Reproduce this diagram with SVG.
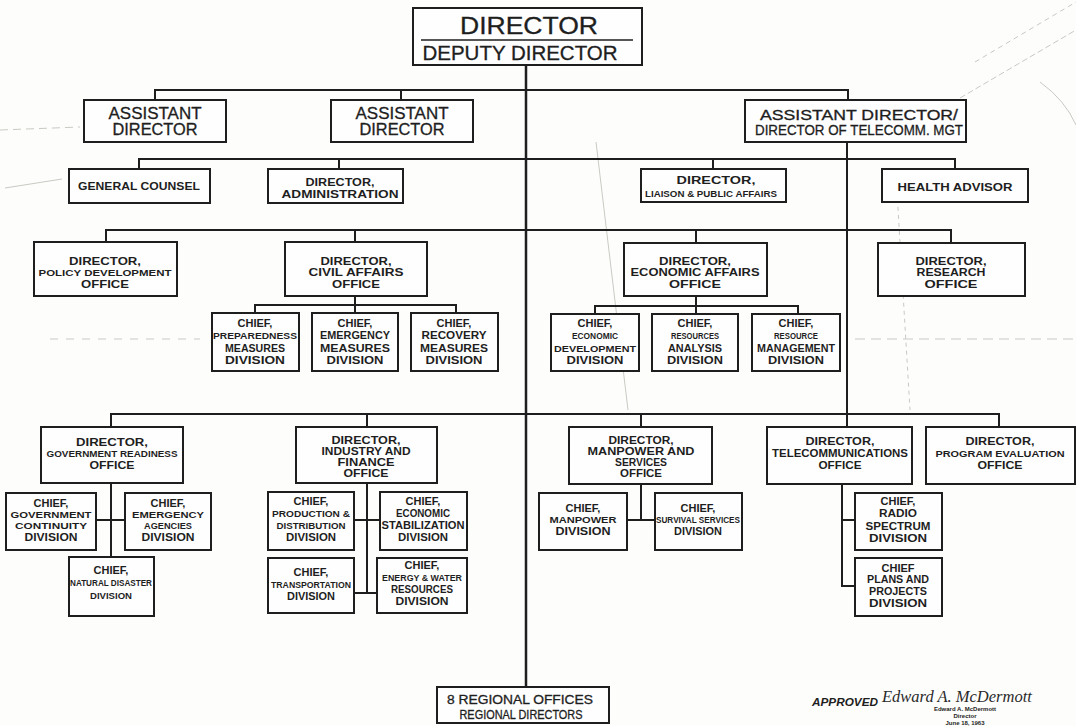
<svg xmlns="http://www.w3.org/2000/svg" width="1076" height="726" viewBox="0 0 1076 726">
<style>
.bg{fill:#fdfdfb}
.n rect{fill:#fefefe;stroke:#1e1e1e;stroke-width:2}
.c path{fill:none;stroke:#1e1e1e;stroke-width:2}
.t{font-family:"Liberation Sans",Arial,sans-serif;font-weight:bold;fill:#1e1e1e;text-anchor:middle}
.r{font-weight:normal;stroke:#1e1e1e;stroke-width:0.3}
.f23{font-size:23px}.f20{font-size:20px}.f16{font-size:16px}.f14{font-size:14px}.f12{font-size:12px}
.f11{font-size:11px}.f10{font-size:10px}.f9{font-size:9.5px}.f8{font-size:9px}.f6{font-size:6px}
.m{fill:none;stroke:#c9c9c4;stroke-width:1}
.sig{font-family:"Liberation Serif",serif;font-style:italic;font-size:16.5px;fill:#2a2a2a}
</style>
<rect class="bg" x="0" y="0" width="1076" height="726"/>
<g id="scan-marks">
<path class="m" stroke-dasharray="6 3" d="M960 98 L1076 30"/>
<path class="m" stroke-dasharray="5 4" d="M975 62 L1076 2"/>
<path class="m" d="M1040 82 Q1065 100 1076 125"/>
<path class="m" d="M596 142 L628 410"/>
<path class="m" stroke-dasharray="4 4" d="M896 175 L910 410"/>
<path class="m" stroke-dasharray="8 5" d="M0 130 L80 127"/>
<path class="m" d="M5 188 L62 179"/>
<path class="m" stroke-dasharray="8 8" d="M50 339 L200 339"/>
<path class="m" stroke-dasharray="10 6" d="M855 339 L1076 339"/>
</g>
<g id="connectors" class="c">
<path d="M526 65 V687" style="stroke-width:2.5"/>
<path d="M155 100 V90 H848 V100 M401 90 V100"/>
<path d="M847 142 V427"/>
<path d="M139 169 V159 H955 V169 M339 159 V169 M713 159 V169"/>
<path d="M106 242 V230 H951 V243 M355 230 V242 M696 230 V243"/>
<path d="M355 296 V305 M255 313 V305 H456 V313 M355 305 V313"/>
<path d="M696 296 V306 M595 314 V306 H798 V314 M696 306 V314"/>
<path d="M111 427 V414 H999 V427 M367 414 V427 M641 414 V427"/>
<path d="M111 483 V557 M96 520 H125"/>
<path d="M367 483 V593 M354 520 H380 M354 593 H377"/>
<path d="M641 484 V520 M627 520 H655"/>
<path d="M842 484 V586 H855 M842 520 H855"/>
</g>
<g id="director" class="n">
<rect x="413" y="8" width="229" height="57"/>
<path d="M421 40 H633" style="fill:none;stroke:#1e1e1e;stroke-width:1.6"/>
<text class="t r f23" x="529" y="34" textLength="138" lengthAdjust="spacingAndGlyphs">DIRECTOR</text>
<text class="t r f20" x="520" y="60" textLength="195" lengthAdjust="spacingAndGlyphs">DEPUTY DIRECTOR</text>
</g>
<g id="asst-director-1" class="n">
<rect x="84" y="100" width="142" height="42"/>
<text class="t r f16" x="155" y="119" textLength="93" lengthAdjust="spacingAndGlyphs">ASSISTANT</text>
<text class="t r f16" x="155" y="135" textLength="85" lengthAdjust="spacingAndGlyphs">DIRECTOR</text>
</g>
<g id="asst-director-2" class="n">
<rect x="331" y="100" width="142" height="42"/>
<text class="t r f16" x="402" y="119" textLength="93" lengthAdjust="spacingAndGlyphs">ASSISTANT</text>
<text class="t r f16" x="402" y="135" textLength="85" lengthAdjust="spacingAndGlyphs">DIRECTOR</text>
</g>
<g id="asst-director-telecomm" class="n">
<rect x="745" y="100" width="221" height="42"/>
<text class="t r f14" x="859" y="120" textLength="198" lengthAdjust="spacingAndGlyphs">ASSISTANT  DIRECTOR/</text>
<text class="t r f14" x="859" y="135" textLength="208" lengthAdjust="spacingAndGlyphs">DIRECTOR OF TELECOMM. MGT</text>
</g>
<g id="general-counsel" class="n">
<rect x="69" y="169" width="141" height="34"/>
<text class="t f10" x="139" y="190" textLength="122" lengthAdjust="spacingAndGlyphs">GENERAL COUNSEL</text>
</g>
<g id="director-administration" class="n">
<rect x="268" y="169" width="135" height="34"/>
<text class="t f10" x="340" y="186" textLength="69" lengthAdjust="spacingAndGlyphs">DIRECTOR,</text>
<text class="t f10" x="340" y="198" textLength="117" lengthAdjust="spacingAndGlyphs">ADMINISTRATION</text>
</g>
<g id="director-liaison" class="n">
<rect x="641" y="169" width="145" height="33"/>
<text class="t f10" x="716" y="184" textLength="79" lengthAdjust="spacingAndGlyphs">DIRECTOR,</text>
<text class="t f8" x="711" y="197" textLength="132" lengthAdjust="spacingAndGlyphs">LIAISON &amp; PUBLIC AFFAIRS</text>
</g>
<g id="health-advisor" class="n">
<rect x="882" y="169" width="146" height="33"/>
<text class="t f10" x="955" y="191" textLength="115" lengthAdjust="spacingAndGlyphs">HEALTH ADVISOR</text>
</g>
<g id="policy-development" class="n">
<rect x="34" y="242" width="143" height="54"/>
<text class="t f11" x="105" y="265" textLength="72" lengthAdjust="spacingAndGlyphs">DIRECTOR,</text>
<text class="t f9" x="105" y="276" textLength="133" lengthAdjust="spacingAndGlyphs">POLICY DEVELOPMENT</text>
<text class="t f11" x="105" y="288" textLength="48" lengthAdjust="spacingAndGlyphs">OFFICE</text>
</g>
<g id="civil-affairs" class="n">
<rect x="285" y="242" width="142" height="54"/>
<text class="t f11" x="356" y="265" textLength="71" lengthAdjust="spacingAndGlyphs">DIRECTOR,</text>
<text class="t f11" x="356" y="276" textLength="95" lengthAdjust="spacingAndGlyphs">CIVIL AFFAIRS</text>
<text class="t f11" x="356" y="288" textLength="48" lengthAdjust="spacingAndGlyphs">OFFICE</text>
</g>
<g id="economic-affairs" class="n">
<rect x="624" y="243" width="143" height="53"/>
<text class="t f11" x="695" y="265" textLength="72" lengthAdjust="spacingAndGlyphs">DIRECTOR,</text>
<text class="t f11" x="695" y="276" textLength="129" lengthAdjust="spacingAndGlyphs">ECONOMIC AFFAIRS</text>
<text class="t f11" x="695" y="288" textLength="52" lengthAdjust="spacingAndGlyphs">OFFICE</text>
</g>
<g id="research" class="n">
<rect x="878" y="243" width="147" height="53"/>
<text class="t f11" x="951" y="265" textLength="71" lengthAdjust="spacingAndGlyphs">DIRECTOR,</text>
<text class="t f11" x="951" y="276" textLength="69" lengthAdjust="spacingAndGlyphs">RESEARCH</text>
<text class="t f11" x="951" y="288" textLength="53" lengthAdjust="spacingAndGlyphs">OFFICE</text>
</g>
<g id="preparedness-measures" class="n">
<rect x="212" y="313" width="87" height="58"/>
<text class="t f11" x="255" y="327">CHIEF,</text>
<text class="t f9" x="255" y="339" textLength="84" lengthAdjust="spacingAndGlyphs">PREPAREDNESS</text>
<text class="t f11" x="255" y="352" textLength="60" lengthAdjust="spacingAndGlyphs">MEASURES</text>
<text class="t f11" x="255" y="364" textLength="60" lengthAdjust="spacingAndGlyphs">DIVISION</text>
</g>
<g id="emergency-measures" class="n">
<rect x="312" y="313" width="86" height="58"/>
<text class="t f11" x="355" y="327">CHIEF,</text>
<text class="t f10" x="355" y="339" textLength="70" lengthAdjust="spacingAndGlyphs">EMERGENCY</text>
<text class="t f11" x="355" y="352" textLength="70" lengthAdjust="spacingAndGlyphs">MEASURES</text>
<text class="t f11" x="355" y="364" textLength="57" lengthAdjust="spacingAndGlyphs">DIVISION</text>
</g>
<g id="recovery-measures" class="n">
<rect x="411" y="313" width="87" height="58"/>
<text class="t f11" x="454" y="327">CHIEF,</text>
<text class="t f10" x="454" y="339" textLength="65" lengthAdjust="spacingAndGlyphs">RECOVERY</text>
<text class="t f11" x="454" y="352" textLength="68" lengthAdjust="spacingAndGlyphs">MEASURES</text>
<text class="t f11" x="454" y="364" textLength="57" lengthAdjust="spacingAndGlyphs">DIVISION</text>
</g>
<g id="economic-development" class="n">
<rect x="551" y="314" width="88" height="57"/>
<text class="t f11" x="595" y="327">CHIEF,</text>
<text class="t f9" x="595" y="339" textLength="46" lengthAdjust="spacingAndGlyphs">ECONOMIC</text>
<text class="t f9" x="595" y="352" textLength="82" lengthAdjust="spacingAndGlyphs">DEVELOPMENT</text>
<text class="t f11" x="595" y="364" textLength="57" lengthAdjust="spacingAndGlyphs">DIVISION</text>
</g>
<g id="resources-analysis" class="n">
<rect x="652" y="314" width="86" height="57"/>
<text class="t f11" x="695" y="327">CHIEF,</text>
<text class="t f9" x="695" y="339" textLength="48" lengthAdjust="spacingAndGlyphs">RESOURCES</text>
<text class="t f10" x="695" y="352" textLength="54" lengthAdjust="spacingAndGlyphs">ANALYSIS</text>
<text class="t f11" x="695" y="364" textLength="56" lengthAdjust="spacingAndGlyphs">DIVISION</text>
</g>
<g id="resource-management" class="n">
<rect x="752" y="314" width="88" height="57"/>
<text class="t f11" x="796" y="327">CHIEF,</text>
<text class="t f9" x="796" y="339" textLength="44" lengthAdjust="spacingAndGlyphs">RESOURCE</text>
<text class="t f10" x="796" y="352" textLength="78" lengthAdjust="spacingAndGlyphs">MANAGEMENT</text>
<text class="t f11" x="796" y="364" textLength="56" lengthAdjust="spacingAndGlyphs">DIVISION</text>
</g>
<g id="government-readiness" class="n">
<rect x="41" y="427" width="142" height="56"/>
<text class="t f11" x="112" y="446" textLength="72" lengthAdjust="spacingAndGlyphs">DIRECTOR,</text>
<text class="t f9" x="112" y="457" textLength="131" lengthAdjust="spacingAndGlyphs">GOVERNMENT READINESS</text>
<text class="t f11" x="112" y="469" textLength="45" lengthAdjust="spacingAndGlyphs">OFFICE</text>
</g>
<g id="government-continuity" class="n">
<rect x="6" y="493" width="90" height="57"/>
<text class="t f11" x="51" y="507">CHIEF,</text>
<text class="t f9" x="51" y="518" textLength="81" lengthAdjust="spacingAndGlyphs">GOVERNMENT</text>
<text class="t f9" x="51" y="529" textLength="72" lengthAdjust="spacingAndGlyphs">CONTINUITY</text>
<text class="t f10" x="51" y="541" textLength="53" lengthAdjust="spacingAndGlyphs">DIVISION</text>
</g>
<g id="emergency-agencies" class="n">
<rect x="125" y="493" width="86" height="57"/>
<text class="t f11" x="168" y="507">CHIEF,</text>
<text class="t f9" x="168" y="518" textLength="72" lengthAdjust="spacingAndGlyphs">EMERGENCY</text>
<text class="t f9" x="168" y="529" textLength="48" lengthAdjust="spacingAndGlyphs">AGENCIES</text>
<text class="t f10" x="168" y="541" textLength="53" lengthAdjust="spacingAndGlyphs">DIVISION</text>
</g>
<g id="natural-disaster" class="n">
<rect x="69" y="557" width="85" height="59"/>
<text class="t f11" x="111" y="574">CHIEF,</text>
<text class="t f8" x="111" y="586" textLength="82" lengthAdjust="spacingAndGlyphs">NATURAL DISASTER</text>
<text class="t f9" x="111" y="599" textLength="42" lengthAdjust="spacingAndGlyphs">DIVISION</text>
</g>
<g id="industry-finance" class="n">
<rect x="296" y="427" width="141" height="56"/>
<text class="t f11" x="366" y="444" textLength="69" lengthAdjust="spacingAndGlyphs">DIRECTOR,</text>
<text class="t f10" x="366" y="455" textLength="89" lengthAdjust="spacingAndGlyphs">INDUSTRY AND</text>
<text class="t f11" x="366" y="466" textLength="57" lengthAdjust="spacingAndGlyphs">FINANCE</text>
<text class="t f11" x="366" y="477" textLength="45" lengthAdjust="spacingAndGlyphs">OFFICE</text>
</g>
<g id="production-distribution" class="n">
<rect x="268" y="492" width="86" height="58"/>
<text class="t f11" x="311" y="505">CHIEF,</text>
<text class="t f9" x="311" y="517" textLength="78" lengthAdjust="spacingAndGlyphs">PRODUCTION &amp;</text>
<text class="t f9" x="311" y="529" textLength="69" lengthAdjust="spacingAndGlyphs">DISTRIBUTION</text>
<text class="t f10" x="311" y="541" textLength="50" lengthAdjust="spacingAndGlyphs">DIVISION</text>
</g>
<g id="economic-stabilization" class="n">
<rect x="380" y="492" width="87" height="58"/>
<text class="t f11" x="423" y="505">CHIEF,</text>
<text class="t f10" x="423" y="517" textLength="54" lengthAdjust="spacingAndGlyphs">ECONOMIC</text>
<text class="t f10" x="423" y="529" textLength="83" lengthAdjust="spacingAndGlyphs">STABILIZATION</text>
<text class="t f10" x="423" y="541" textLength="50" lengthAdjust="spacingAndGlyphs">DIVISION</text>
</g>
<g id="transportation" class="n">
<rect x="268" y="558" width="86" height="55"/>
<text class="t f11" x="311" y="576">CHIEF,</text>
<text class="t f8" x="311" y="588" textLength="80" lengthAdjust="spacingAndGlyphs">TRANSPORTATION</text>
<text class="t f10" x="311" y="600" textLength="48" lengthAdjust="spacingAndGlyphs">DIVISION</text>
</g>
<g id="energy-water" class="n">
<rect x="377" y="558" width="90" height="55"/>
<text class="t f11" x="422" y="569">CHIEF,</text>
<text class="t f8" x="422" y="581" textLength="80" lengthAdjust="spacingAndGlyphs">ENERGY &amp; WATER</text>
<text class="t f10" x="422" y="593" textLength="62" lengthAdjust="spacingAndGlyphs">RESOURCES</text>
<text class="t f10" x="422" y="605" textLength="53" lengthAdjust="spacingAndGlyphs">DIVISION</text>
</g>
<g id="manpower-services" class="n">
<rect x="569" y="427" width="143" height="57"/>
<text class="t f11" x="641" y="444" textLength="65" lengthAdjust="spacingAndGlyphs">DIRECTOR,</text>
<text class="t f10" x="641" y="455" textLength="107" lengthAdjust="spacingAndGlyphs">MANPOWER AND</text>
<text class="t f11" x="641" y="466" textLength="52" lengthAdjust="spacingAndGlyphs">SERVICES</text>
<text class="t f11" x="641" y="477" textLength="42" lengthAdjust="spacingAndGlyphs">OFFICE</text>
</g>
<g id="manpower-division" class="n">
<rect x="539" y="493" width="88" height="57"/>
<text class="t f11" x="583" y="512">CHIEF,</text>
<text class="t f9" x="583" y="523" textLength="67" lengthAdjust="spacingAndGlyphs">MANPOWER</text>
<text class="t f11" x="583" y="535" textLength="55" lengthAdjust="spacingAndGlyphs">DIVISION</text>
</g>
<g id="survival-services" class="n">
<rect x="655" y="493" width="87" height="57"/>
<text class="t f11" x="698" y="512">CHIEF,</text>
<text class="t f8" x="698" y="523" textLength="84" lengthAdjust="spacingAndGlyphs">SURVIVAL SERVICES</text>
<text class="t f10" x="698" y="535" textLength="48" lengthAdjust="spacingAndGlyphs">DIVISION</text>
</g>
<g id="telecommunications" class="n">
<rect x="767" y="427" width="145" height="57"/>
<text class="t f11" x="840" y="445" textLength="69" lengthAdjust="spacingAndGlyphs">DIRECTOR,</text>
<text class="t f10" x="840" y="457" textLength="136" lengthAdjust="spacingAndGlyphs">TELECOMMUNICATIONS</text>
<text class="t f11" x="840" y="469" textLength="43" lengthAdjust="spacingAndGlyphs">OFFICE</text>
</g>
<g id="radio-spectrum" class="n">
<rect x="855" y="493" width="87" height="57"/>
<text class="t f11" x="898" y="505">CHIEF,</text>
<text class="t f11" x="898" y="517" textLength="38" lengthAdjust="spacingAndGlyphs">RADIO</text>
<text class="t f11" x="898" y="530" textLength="65" lengthAdjust="spacingAndGlyphs">SPECTRUM</text>
<text class="t f11" x="898" y="542" textLength="58" lengthAdjust="spacingAndGlyphs">DIVISION</text>
</g>
<g id="plans-projects" class="n">
<rect x="855" y="558" width="87" height="58"/>
<text class="t f11" x="898" y="572">CHIEF</text>
<text class="t f10" x="898" y="583" textLength="62" lengthAdjust="spacingAndGlyphs">PLANS AND</text>
<text class="t f10" x="898" y="595" textLength="58" lengthAdjust="spacingAndGlyphs">PROJECTS</text>
<text class="t f11" x="898" y="607" textLength="58" lengthAdjust="spacingAndGlyphs">DIVISION</text>
</g>
<g id="program-evaluation" class="n">
<rect x="926" y="427" width="149" height="57"/>
<text class="t f11" x="1000" y="445" textLength="69" lengthAdjust="spacingAndGlyphs">DIRECTOR,</text>
<text class="t f9" x="1000" y="457" textLength="129" lengthAdjust="spacingAndGlyphs">PROGRAM EVALUATION</text>
<text class="t f11" x="1000" y="469" textLength="45" lengthAdjust="spacingAndGlyphs">OFFICE</text>
</g>
<g id="regional-offices" class="n">
<rect x="437" y="687" width="172" height="36"/>
<text class="t r f12" x="520" y="704" textLength="146" lengthAdjust="spacingAndGlyphs">8 REGIONAL OFFICES</text>
<text class="t r f12" x="521" y="719" textLength="123" lengthAdjust="spacingAndGlyphs">REGIONAL DIRECTORS</text>
</g>
<g id="approval">
<text class="t f10" x="845" y="706" textLength="66" lengthAdjust="spacingAndGlyphs" style="font-style:italic">APPROVED</text>
<text class="sig" x="882" y="702">Edward A. McDermott</text>
<text class="t f6" x="965" y="711">Edward A. McDermott</text>
<text class="t f6" x="965" y="718">Director</text>
<text class="t f6" x="965" y="725">June 18, 1963</text>
</g>
</svg>
